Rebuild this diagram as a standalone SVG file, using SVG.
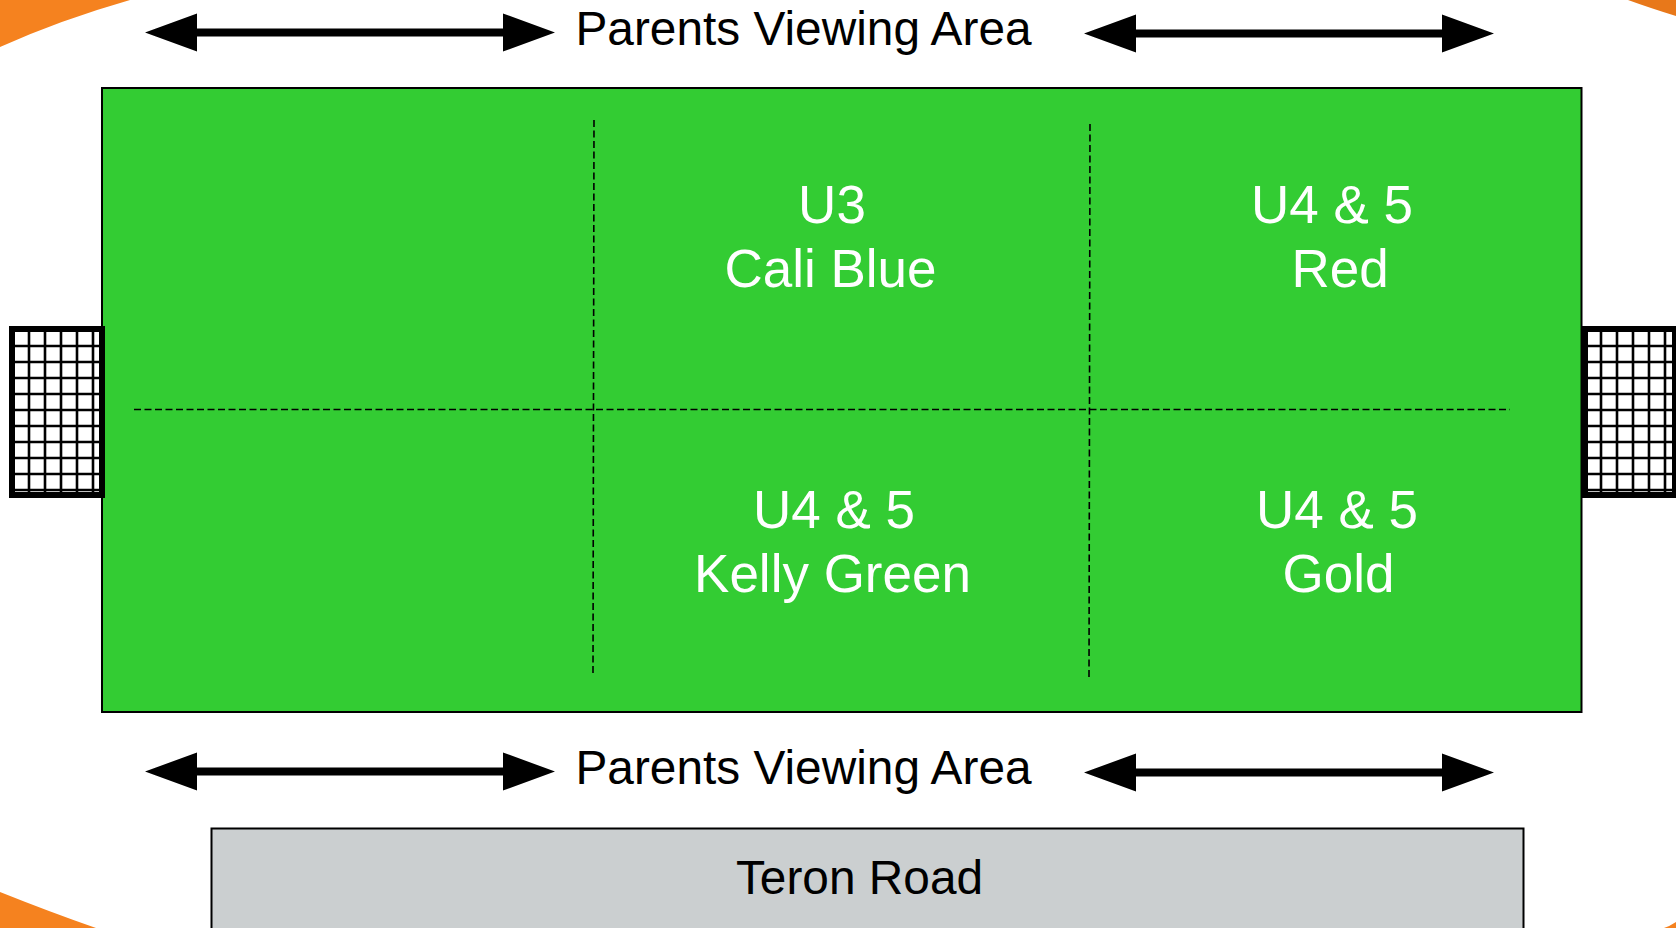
<svg xmlns="http://www.w3.org/2000/svg" width="1676" height="928" viewBox="0 0 1676 928">
<style>
text{font-family:"Liberation Sans",Arial,sans-serif;text-anchor:middle}
.w{fill:#fff;font-size:53px}.k{fill:#000;font-size:47.800px}
.dash{stroke:#000;stroke-width:1.6;stroke-dasharray:7 3.5;fill:none}
.net{stroke:#000;stroke-width:2.600;fill:none}
.frame{fill:#fff;stroke:#000;stroke-width:6}
</style>
<defs>
<path id="dbl" d="M0 0L52 -19V-4H358V-19L410 0L358 19V4H52V19Z" fill="#000"/>
</defs>
<rect width="1676" height="928" fill="#fff"/>
<g id="corners" fill="#f5821f">
<path d="M0 0H130Q60 20 0 47Z"/>
<path d="M1628 0H1676V16Q1650 8 1628 0Z" fill="#e8781a"/>
<path d="M0 892Q50 912 96 928H0Z"/>
<path d="M1664 928Q1670 926 1676 922V928Z"/>
</g>
<g id="field"><rect x="102" y="88" width="1479.500" height="624" fill="#33cc33" stroke="#000" stroke-width="2"/></g>
<g id="goal-left"><rect x="12" y="329" width="90" height="166" class="frame"/>
<path class="net" d="M29 329V495M45 329V495M61 329V495M77 329V495M93 329V495M12 346H102M12 362H102M12 378H102M12 394H102M12 410H102M12 426H102M12 442H102M12 458H102M12 474H102M12 490H102"/></g>
<g id="goal-right"><rect x="1585" y="329" width="90" height="166" class="frame"/>
<path class="net" d="M1601 329V495M1617 329V495M1633 329V495M1649 329V495M1665 329V495M1585 346H1675M1585 362H1675M1585 378H1675M1585 394H1675M1585 410H1675M1585 426H1675M1585 442H1675M1585 458H1675M1585 474H1675M1585 490H1675"/></g>
<g id="road"><rect x="211.500" y="828.500" width="1312" height="110" fill="#cbcfd0" stroke="#000" stroke-width="2"/><text x="859.500" y="894" class="k">Teron Road</text></g>
<g id="connectors">
<use href="#dbl" x="145" y="32.500"/>
<use href="#dbl" x="1084" y="33.500"/>
<use href="#dbl" x="145" y="771.500"/>
<use href="#dbl" x="1084" y="772.500"/>
<path class="dash" d="M594 120L593 674M1090 124L1089 678M134 409.500H1510"/>
</g>
<g id="label-top"><text x="803.500" y="45" class="k">Parents Viewing Area</text></g>
<g id="label-bottom"><text x="803.500" y="784" class="k">Parents Viewing Area</text></g>
<g id="zone-u3"><text x="832" y="223" class="w">U3</text><text x="830.500" y="287" class="w">Cali Blue</text></g>
<g id="zone-red"><text x="1332" y="223" class="w">U4 &amp; 5</text><text x="1340" y="287" class="w">Red</text></g>
<g id="zone-kelly"><text x="834" y="527.500" class="w">U4 &amp; 5</text><text x="832.500" y="591.500" class="w">Kelly Green</text></g>
<g id="zone-gold"><text x="1337" y="527.500" class="w">U4 &amp; 5</text><text x="1338.500" y="591.500" class="w">Gold</text></g>
</svg>
